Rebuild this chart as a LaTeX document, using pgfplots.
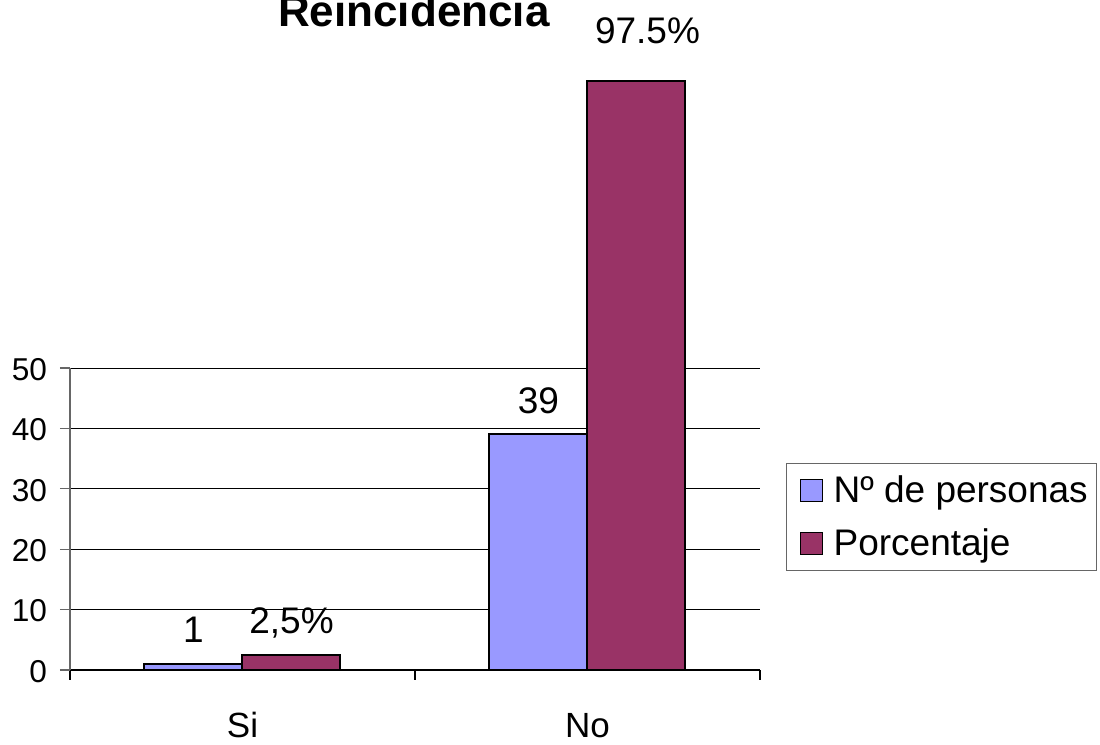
\documentclass[border=0pt]{standalone}
\usepackage{fontspec}
\setmainfont{Liberation Sans}
\usepackage{pgfplots}
\pgfplotsset{compat=1.18}
\definecolor{cblue}{HTML}{9999FF}
\definecolor{cmaroon}{HTML}{993366}
\begin{document}
\begin{tikzpicture}
\useasboundingbox (-35pt,-37.5pt) rectangle (515pt,335pt);
\begin{axis}[
  at={(0pt,0pt)}, anchor=south west,
  scale only axis, width=345pt, height=151pt,
  xmin=-0.5, xmax=1.5, ymin=0, ymax=50,
  clip=false,
  ybar, bar width=49pt,
  axis lines*=left,
  axis line style={line width=0.6pt},
  y axis line style={draw=gray!80!black},
  ytick={0,10,20,30,40,50},
  ymajorgrids, grid style={black, line width=0.5pt},
  tick align=outside,
  major tick length=5pt,
  y tick style={draw=gray!80!black, line width=0.6pt},
  xtick={-0.5,0.5,1.5}, xticklabels={},
  x tick style={black, line width=0.6pt},
  extra x ticks={0,1}, extra x tick labels={Si,No},
  extra x tick style={major tick length=0pt, grid=none,
     xticklabel style={anchor=base, yshift=-34pt, font=\fontsize{17.5}{21}\selectfont}},
  /pgf/number format/assume math mode=true,
  yticklabel style={anchor=east, xshift=-3pt, yshift=-0.75pt, font=\fontsize{15.8}{19}\selectfont},
  title={\textbf{Reincidencia}},
  title style={at={(0.4986,2.092)}, anchor=base, yshift=0pt, font=\fontsize{22}{26}\selectfont},
  legend style={at={(1.0377,0.685)}, anchor=north west, draw=gray!80!black, line width=0.6pt,
     font=\fontsize{18.5}{22}\selectfont, row sep=7.5pt, inner xsep=2.5pt, inner ysep=4pt},
  legend cell align=left,
  legend image code/.code={\path (0pt,0pt) (18pt,0pt);
     \draw[#1, line width=0.8pt] (4pt,-5.5pt) rectangle (15pt,5.5pt);},
  point meta=explicit symbolic,
  nodes near coords,
  every node near coord/.append style={anchor=base, yshift=10.5pt, font=\fontsize{18.5}{22}\selectfont, black},
]
\addplot[fill=cblue, draw=black, line width=1pt, bar shift=-24.5pt]
  coordinates {(0,1) [1] (1,39) [39]};
\addplot[fill=cmaroon, draw=black, line width=1pt, bar shift=24.5pt]
  coordinates {(0,2.5) [{2,5\%}] (1,97.5) []};
\legend{N\textordmasculine{} de personas, Porcentaje}
\node[anchor=base, font=\fontsize{18.5}{22}\selectfont] at (axis cs:1,97.5) [xshift=30pt, yshift=19pt] {97.5\%};
\end{axis}
\end{tikzpicture}
\end{document}
